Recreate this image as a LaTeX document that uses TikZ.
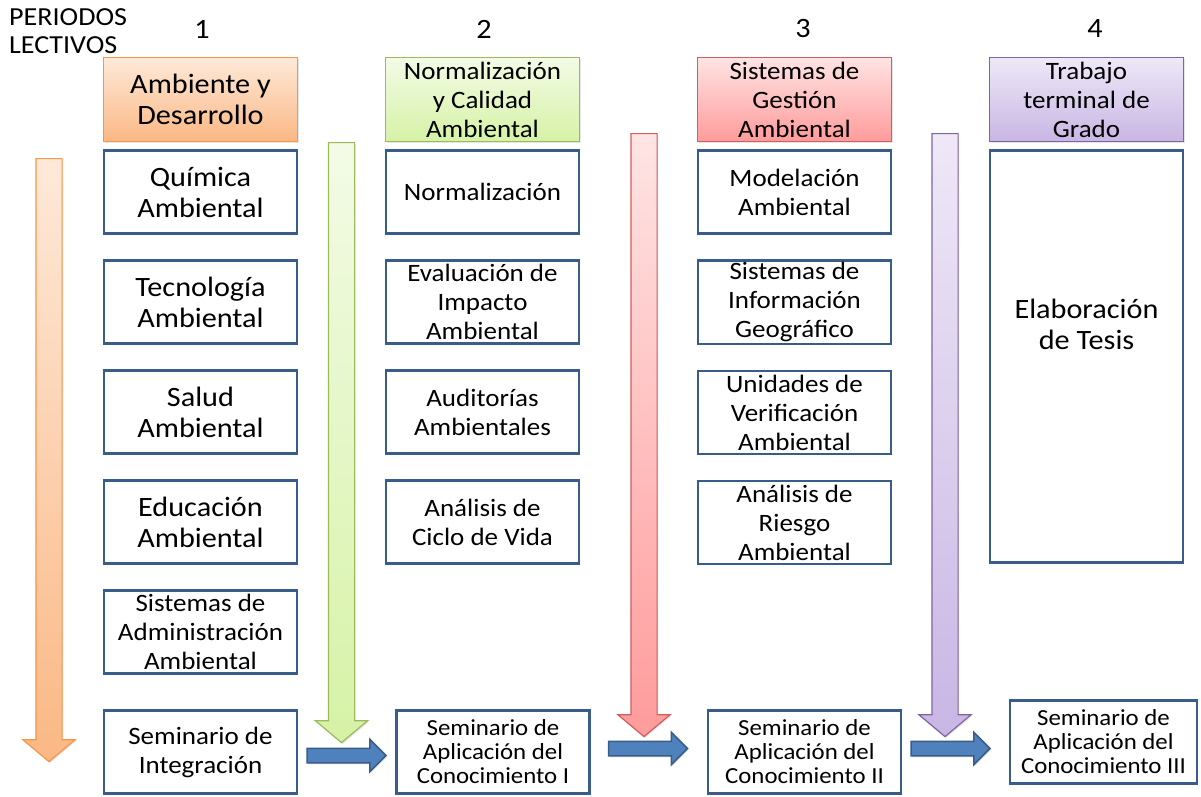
\documentclass[tikz,border=0pt]{standalone}
\usepackage{fontspec}
\setmainfont[FakeStretch=1.08]{Carlito}
\usetikzlibrary{positioning,shapes.arrows,shadows}

\definecolor{azulborde}{RGB}{56,93,138}
\definecolor{azulflecha}{RGB}{79,129,189}
\definecolor{naranjaborde}{RGB}{247,150,70}
\definecolor{naranjaclaro}{RGB}{254,233,217}
\definecolor{naranjaoscuro}{RGB}{250,184,132}
\definecolor{verdeborde}{RGB}{155,187,89}
\definecolor{verdeclaro}{RGB}{243,251,230}
\definecolor{verdeoscuro}{RGB}{214,242,166}
\definecolor{rojoborde}{RGB}{205,96,94}
\definecolor{rojoclaro}{RGB}{255,228,228}
\definecolor{rojooscuro}{RGB}{255,155,155}
\definecolor{moradoborde}{RGB}{128,100,162}
\definecolor{moradoclaro}{RGB}{238,232,247}
\definecolor{moradooscuro}{RGB}{200,182,228}

\begin{document}
\begin{tikzpicture}[x=1pt,y=-1pt,
    sombra/.style={drop shadow={opacity=0.2,shadow xshift=1pt,shadow yshift=-1.5pt}},
    materia/.style={draw=azulborde,line width=2.4pt,fill=white,minimum width=193pt,
      minimum height=83pt,align=center,inner sep=2pt,outer sep=0pt},
    cabecera/.style={line width=1.4pt,minimum width=194pt,minimum height=84pt,
      align=center,inner sep=2pt,outer sep=0pt,sombra},
    bajada/.style={single arrow,shape border rotate=270,single arrow head extend=13pt,
      single arrow tip angle=100,inner sep=12.5pt,line width=1.2pt,anchor=tail,sombra},
    avance/.style={single arrow,draw=azulborde,fill=azulflecha,line width=1.5pt,
      inner sep=6.5pt,single arrow head extend=9pt,minimum height=79pt,outer sep=0pt,sombra},
    txtgrande/.style={font=\fontsize{28}{31}\selectfont},
    txtmedio/.style={font=\fontsize{25}{29}\selectfont},
    txtchico/.style={font=\fontsize{23}{24}\selectfont}]
  \useasboundingbox (0,0) rectangle (1201,796);

  % periodos
  \node[anchor=west,align=left,font=\fontsize{26}{28}\selectfont,inner sep=0pt] (pl)
    at (9,31) {PERIODOS\\LECTIVOS};
  \node[txtgrande] (p1) at (202,29) {1};
  \node[txtgrande] (p2) at (484,29) {2};
  \node[txtgrande] (p3) at (803,29) {3};
  \node[txtgrande] (p4) at (1095,29) {4};

  % flechas de cada periodo
  \node[bajada,draw=naranjaborde,top color=naranjaclaro,bottom color=naranjaoscuro,
    minimum height=603pt] (fa) at (49,158) {};
  \node[bajada,draw=verdeborde,top color=verdeclaro,bottom color=verdeoscuro,
    minimum height=600pt] (fb) at (341.5,142) {};
  \node[bajada,draw=rojoborde,top color=rojoclaro,bottom color=rojooscuro,
    minimum height=603pt] (fc) at (644,133) {};
  \node[bajada,draw=moradoborde,top color=moradoclaro,bottom color=moradooscuro,
    minimum height=603pt] (fd) at (945,133) {};

  % cabeceras
  \node[cabecera,txtgrande,draw=naranjaborde,top color=naranjaclaro,
    bottom color=naranjaoscuro] (h1) at (200.5,99.5) {Ambiente y\\Desarrollo};
  \node[cabecera,txtmedio,draw=verdeborde,top color=verdeclaro,
    bottom color=verdeoscuro] (h2) at (482.5,99.5) {Normalización\\y Calidad\\Ambiental};
  \node[cabecera,txtmedio,draw=rojoborde,top color=rojoclaro,
    bottom color=rojooscuro] (h3) at (794.5,99.5) {Sistemas de\\Gestión\\Ambiental};
  \node[cabecera,txtmedio,draw=moradoborde,top color=moradoclaro,
    bottom color=moradooscuro] (h4) at (1086.5,99.5) {Trabajo\\terminal de\\Grado};

  % periodo 1
  \node[materia,txtgrande,below=9pt of h1] (qa) {Química\\Ambiental};
  \node[materia,txtgrande,below=27pt of qa] (ta) {Tecnología\\Ambiental};
  \node[materia,txtgrande,below=27pt of ta] (sa) {Salud\\Ambiental};
  \node[materia,txtgrande,below=27pt of sa] (ea) {Educación\\Ambiental};
  \node[materia,txtmedio,below=27pt of ea] (saa) {Sistemas de\\Administración\\Ambiental};
  \node[materia,txtmedio,below=37pt of saa] (si) {Seminario de\\Integración};

  % periodo 2
  \node[materia,txtmedio,below=9pt of h2] (no) {Normalización};
  \node[materia,txtmedio,below=27pt of no] (ei) {Evaluación de\\Impacto\\Ambiental};
  \node[materia,txtmedio,below=27pt of ei] (au) {Auditorías\\Ambientales};
  \node[materia,txtmedio,below=27pt of au] (acv) {Análisis de\\Ciclo de Vida};
  \node[materia,txtchico,right=99.5pt of si] (s1) {Seminario de\\Aplicación del\\Conocimiento I};

  % periodo 3
  \node[materia,txtmedio,below=9pt of h3] (mo) {Modelación\\Ambiental};
  \node[materia,txtmedio,below=27pt of mo] (sig) {Sistemas de\\Información\\Geográfico};
  \node[materia,txtmedio,below=27pt of sig] (uv) {Unidades de\\Verificación\\Ambiental};
  \node[materia,txtmedio,below=27pt of uv] (ar) {Análisis de\\Riesgo\\Ambiental};
  \node[materia,txtchico,right=118.5pt of s1] (s2) {Seminario de\\Aplicación del\\Conocimiento II};

  % periodo 4
  \node[materia,minimum height=412pt,below=9pt of h4] (et) {};
  \node[txtgrande,align=center] (tet) at ([yshift=32pt]et.center) {Elaboración\\de Tesis};
  \node[materia,txtchico,minimum width=187pt,right=109pt of s2,yshift=10pt] (s3)
    {Seminario de\\Aplicación del\\Conocimiento III};

  % paso entre seminarios
  \node[avance,right=10pt of si,yshift=-3.5pt] (a1) {};
  \node[avance,right=19pt of s1,yshift=3.5pt] (a2) {};
  \node[avance,right=10pt of s2,yshift=3.5pt] (a3) {};
\end{tikzpicture}
\end{document}
